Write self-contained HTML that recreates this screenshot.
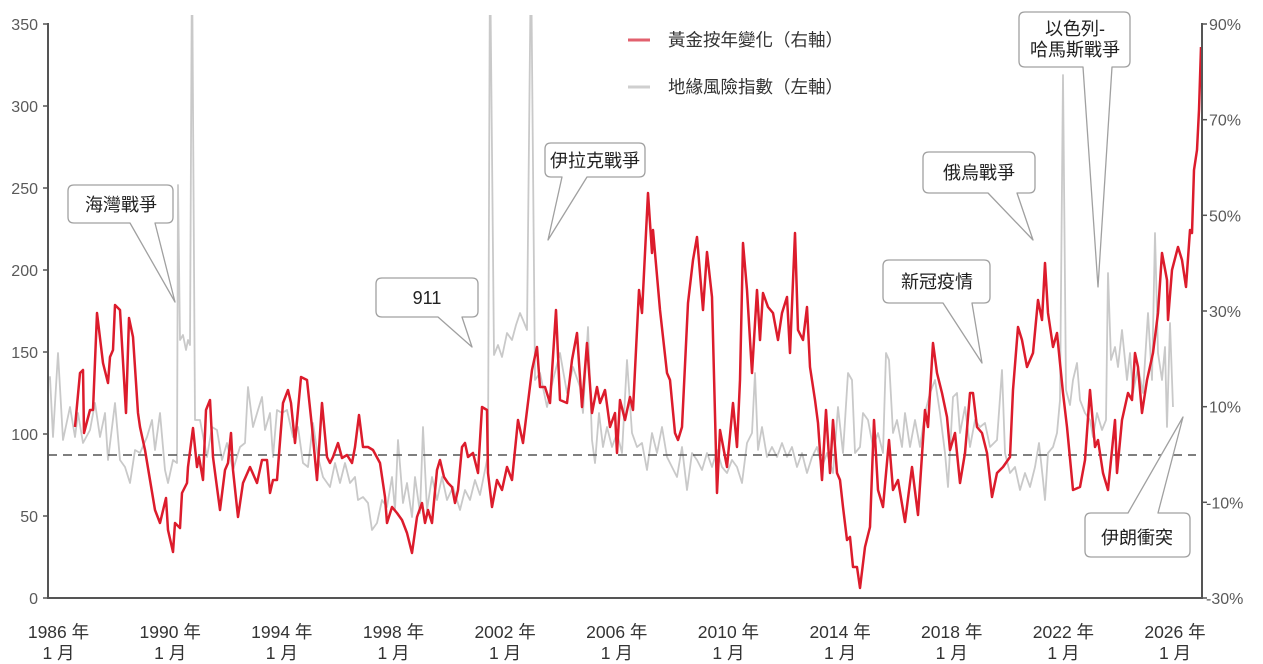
<!DOCTYPE html>
<html><head><meta charset="utf-8"><style>
html,body{margin:0;padding:0;background:#fff;}
svg{display:block;}
text{font-family:"Liberation Sans","Noto Sans CJK TC",sans-serif;}
</style></head><body>
<svg width="1263" height="664" viewBox="0 0 1263 664" xmlns="http://www.w3.org/2000/svg">
<defs><clipPath id="pc"><rect x="48" y="15" width="1154" height="583"/></clipPath></defs>
<rect width="1263" height="664" fill="#fff"/>

<!-- gray series -->
<g clip-path="url(#pc)">
<polyline fill="none" stroke="#c9c9c9" stroke-width="1.8" stroke-linejoin="round" points="48,380 50,377 53,437 58,353 63,440 70,407 75,437 78,413 83,443 90,430 95,403 100,437 105,413 108,460 115,403 120,460 125,467 130,483 135,450 140,453 147,437 152,420 155,450 160,413 165,470 168,483 173,460 177,463 178,185 180,340 183,335 186,350 188,340 190,345 192,-50 195,420 200,420 207,457 212,427 217,430 222,460 227,443 233,470 240,447 245,443 248,387 253,427 258,410 262,397 265,430 270,413 273,457 277,410 282,413 287,410 293,437 298,427 303,463 308,467 313,423 318,457 323,477 330,487 335,463 340,483 345,463 350,483 355,477 358,500 363,497 368,503 372,530 377,523 382,500 387,507 392,477 395,510 398,440 403,503 407,483 412,517 415,477 420,513 423,427 427,510 432,477 437,500 442,477 447,500 453,487 460,510 465,490 470,500 475,480 480,495 485,470 488,455 490,-50 494,355 498,345 502,357 507,333 512,340 516,325 520,313 523,320 527,330 531,-50 535,380 540,373 547,407 553,380 560,353 567,393 573,367 580,387 583,413 588,327 592,440 595,463 599,413 603,447 607,427 612,447 617,433 622,453 627,360 632,433 637,447 642,443 647,470 652,433 657,453 662,427 667,457 672,467 677,477 682,447 687,490 692,453 697,460 702,470 707,453 712,467 717,450 722,467 727,473 732,460 737,467 742,483 747,443 752,433 755,373 758,450 762,427 767,457 772,447 777,457 782,443 787,457 792,447 797,467 802,453 807,473 812,457 817,447 822,467 827,453 833,473 838,407 843,453 848,373 852,380 855,453 860,447 863,413 868,420 873,447 878,433 883,453 886,353 889,360 893,433 897,420 902,447 905,413 910,447 915,420 920,447 925,413 930,393 935,380 940,413 945,453 948,487 953,397 957,393 960,433 965,407 970,447 975,420 980,427 985,423 990,447 997,440 1002,370 1005,453 1010,473 1015,467 1020,490 1025,473 1030,487 1035,467 1039,443 1043,480 1045,500 1048,453 1053,447 1057,433 1060,400 1063,75 1066,390 1070,405 1073,380 1077,363 1080,400 1085,413 1090,420 1093,437 1097,413 1102,430 1106,420 1108,273 1111,360 1115,347 1118,367 1122,330 1127,380 1130,353 1133,393 1138,367 1143,393 1148,313 1152,380 1155,233 1158,353 1162,380 1165,347 1167,427 1170,323 1173,407"/>
</g>

<!-- dashed zero line -->
<line x1="48" y1="455" x2="1196" y2="455" stroke="#555" stroke-width="1.6" stroke-dasharray="9,6"/>

<!-- red series -->
<g clip-path="url(#pc)">
<polyline fill="none" stroke="#dc1c2c" stroke-width="2.5" stroke-linejoin="round" points="75,427 80,373 83,370 84,433 90,410 93,410 97,313 103,363 108,383 110,357 113,350 115,305 120,310 126,413 129,318 133,337 138,413 140,427 145,450 150,480 155,510 160,523 166,498 168,530 173,552 175,523 180,528 182,493 187,483 188,467 193,428 197,467 199,457 203,480 206,410 210,400 213,457 216,480 220,510 225,470 228,463 231,433 233,470 238,517 243,483 250,467 257,483 262,460 267,460 270,493 273,480 277,480 283,403 288,390 291,403 295,443 301,377 307,380 312,427 317,480 322,403 327,457 330,463 333,457 338,443 342,458 347,455 352,463 355,447 359,415 363,447 368,447 373,450 380,463 385,497 387,523 392,507 397,513 402,520 407,533 412,553 417,517 422,503 425,523 428,510 432,523 437,470 440,460 444,477 448,483 452,487 455,503 458,490 462,447 465,443 468,457 473,453 478,473 482,407 487,410 488,473 492,507 497,480 502,490 507,467 512,480 518,420 523,443 532,370 537,347 540,387 545,387 550,403 556,310 560,400 567,403 572,360 577,333 582,407 587,343 592,413 597,387 600,403 605,390 610,427 615,413 617,453 620,400 625,420 630,397 633,410 639,290 642,313 648,193 652,253 653,230 660,310 667,373 670,380 675,433 678,440 682,427 688,303 693,260 697,237 703,310 707,252 712,297 717,493 720,430 727,467 733,403 737,447 740,380 743,243 747,290 752,373 757,290 760,340 763,293 768,307 773,313 778,340 782,313 787,297 790,353 795,233 798,330 803,340 807,307 810,367 815,400 818,423 822,480 826,410 830,473 833,420 837,473 840,480 843,507 847,540 850,537 853,567 857,567 860,588 865,547 870,527 874,420 878,490 883,507 889,440 893,490 898,480 905,522 912,467 918,515 925,410 928,427 933,343 937,373 942,393 947,417 950,450 955,433 960,483 965,453 970,393 973,393 977,427 982,433 987,453 992,497 997,473 1003,467 1010,457 1013,390 1018,327 1022,340 1027,367 1033,353 1038,300 1042,320 1045,263 1048,313 1053,347 1057,333 1063,393 1067,427 1073,490 1080,487 1085,460 1090,390 1095,447 1098,440 1103,473 1108,490 1115,420 1117,473 1122,420 1128,393 1132,400 1135,353 1138,367 1142,413 1147,380 1153,353 1158,313 1162,253 1167,280 1168,320 1172,270 1178,247 1182,260 1186,287 1190,230 1192,233 1194,170 1197,150 1199,110 1201,47"/>
</g>

<!-- axes -->
<g stroke="#555" stroke-width="2" fill="none">
<line x1="48" y1="23" x2="48" y2="599"/>
<line x1="1202" y1="23" x2="1202" y2="599"/>
<line x1="47" y1="598" x2="1203" y2="598"/>
</g>
<g stroke="#555" stroke-width="1.5">
<line x1="43" y1="24" x2="48" y2="24"/><line x1="43" y1="106" x2="48" y2="106"/><line x1="43" y1="188" x2="48" y2="188"/><line x1="43" y1="270" x2="48" y2="270"/><line x1="43" y1="352" x2="48" y2="352"/><line x1="43" y1="434" x2="48" y2="434"/><line x1="43" y1="516" x2="48" y2="516"/><line x1="43" y1="598" x2="48" y2="598"/>
<line x1="1202" y1="24" x2="1207" y2="24"/><line x1="1202" y1="119.7" x2="1207" y2="119.7"/><line x1="1202" y1="215.3" x2="1207" y2="215.3"/><line x1="1202" y1="311" x2="1207" y2="311"/><line x1="1202" y1="406.7" x2="1207" y2="406.7"/><line x1="1202" y1="502.3" x2="1207" y2="502.3"/><line x1="1202" y1="598" x2="1207" y2="598"/>
</g>

<!-- left tick labels -->
<g font-size="16" fill="#5a5a5a" text-anchor="end">
<text x="38" y="30">350</text><text x="38" y="112">300</text><text x="38" y="194">250</text><text x="38" y="276">200</text><text x="38" y="358">150</text><text x="38" y="440">100</text><text x="38" y="522">50</text><text x="38" y="604">0</text>
</g>
<!-- right tick labels -->
<g font-size="16" fill="#5a5a5a" text-anchor="start">
<text x="1209" y="30">90%</text><text x="1209" y="125.7">70%</text><text x="1209" y="221.3">50%</text><text x="1209" y="317">30%</text><text x="1209" y="412.7">10%</text><text x="1206" y="508.3">-10%</text><text x="1206" y="604">-30%</text>
</g>

<!-- x labels -->
<g font-size="17.5" fill="#333" text-anchor="middle">
<text x="58.5" y="638">1986 年</text><text x="58.5" y="659">1 月</text>
<text x="170.2" y="638">1990 年</text><text x="170.2" y="659">1 月</text>
<text x="281.8" y="638">1994 年</text><text x="281.8" y="659">1 月</text>
<text x="393.5" y="638">1998 年</text><text x="393.5" y="659">1 月</text>
<text x="505.1" y="638">2002 年</text><text x="505.1" y="659">1 月</text>
<text x="616.8" y="638">2006 年</text><text x="616.8" y="659">1 月</text>
<text x="728.4" y="638">2010 年</text><text x="728.4" y="659">1 月</text>
<text x="840.1" y="638">2014 年</text><text x="840.1" y="659">1 月</text>
<text x="951.7" y="638">2018 年</text><text x="951.7" y="659">1 月</text>
<text x="1063.4" y="638">2022 年</text><text x="1063.4" y="659">1 月</text>
<text x="1175" y="638">2026 年</text><text x="1175" y="659">1 月</text>
</g>

<!-- legend -->
<line x1="628" y1="40" x2="650" y2="40" stroke="#e2606e" stroke-width="3"/>
<line x1="628" y1="87" x2="650" y2="87" stroke="#cfcfcf" stroke-width="3"/>
<g font-size="17.5" fill="#333">
<text x="668" y="46">黃金按年變化（右軸）</text>
<text x="668" y="93">地緣風險指數（左軸）</text>
</g>

<!-- callouts -->
<g fill="#fff" stroke="#a0a0a0" stroke-width="1.3" stroke-linejoin="round">
<path d="M74,185 H167 Q173,185 173,191 V217 Q173,223 167,223 H155 L175,302 L130,223 H74 Q68,223 68,217 V191 Q68,185 74,185 Z"/>
<path d="M382,278 H472 Q478,278 478,284 V311 Q478,317 472,317 H462 L472,347 L438,317 H382 Q376,317 376,311 V284 Q376,278 382,278 Z"/>
<path d="M551,143 H639 Q645,143 645,149 V171 Q645,177 639,177 H587 L548,240 L562,177 H551 Q545,177 545,171 V149 Q545,143 551,143 Z"/>
<path d="M889,260 H984 Q990,260 990,266 V297 Q990,303 984,303 H972 L982,363 L943,303 H889 Q883,303 883,297 V266 Q883,260 889,260 Z"/>
<path d="M929,152 H1029 Q1035,152 1035,158 V187 Q1035,193 1029,193 H1017 L1033,240 L988,193 H929 Q923,193 923,187 V158 Q923,152 929,152 Z"/>
<path d="M1025,12 H1124 Q1130,12 1130,18 V61 Q1130,67 1124,67 H1112 L1098,287 L1083,67 H1025 Q1019,67 1019,61 V18 Q1019,12 1025,12 Z"/>
<path d="M1091,513 H1128 L1183,417 L1158,513 H1184 Q1190,513 1190,519 V551 Q1190,557 1184,557 H1091 Q1085,557 1085,551 V519 Q1085,513 1091,513 Z"/>
</g>
<g font-size="18" fill="#222" text-anchor="middle">
<text x="121" y="211">海灣戰爭</text>
<text x="427" y="304">911</text>
<text x="595" y="167">伊拉克戰爭</text>
<text x="937" y="288">新冠疫情</text>
<text x="979" y="179">俄烏戰爭</text>
<text x="1075" y="35">以色列-</text>
<text x="1075" y="56">哈馬斯戰爭</text>
<text x="1137" y="544">伊朗衝突</text>
</g>
</svg>
</body></html>
